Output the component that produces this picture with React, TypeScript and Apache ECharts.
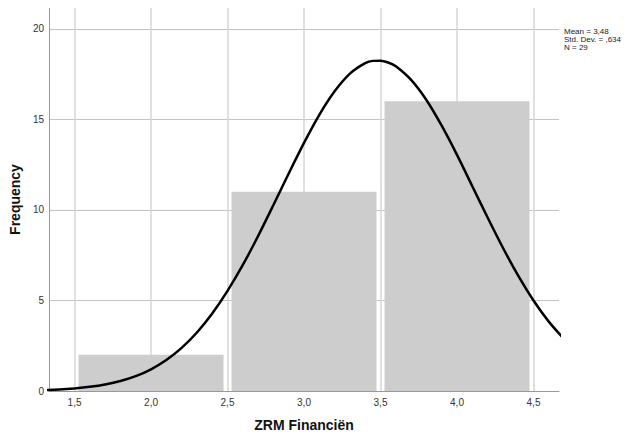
import React, { useEffect, useRef } from "react";
import * as echarts from "echarts";

// Histogram bins: [start, end]
const binStarts = [1.5, 2.5, 3.5];
const binEnds = [2.5, 3.5, 4.5];
const binCounts = [2, 11, 16];

// Normal curve (x, frequency)
const curveX = [
  1.3, 1.4, 1.5, 1.6, 1.7, 1.8, 1.9, 2.0, 2.1, 2.2, 2.3, 2.4, 2.5, 2.6, 2.7, 2.8, 2.9,
  3.0, 3.1, 3.2, 3.3, 3.4, 3.45, 3.5, 3.55, 3.6, 3.7, 3.8, 3.9, 4.0, 4.1, 4.2, 4.3, 4.4, 4.5, 4.6, 4.7,
];
const curveY = [
  0.05, 0.08, 0.14, 0.23, 0.36, 0.55, 0.82, 1.2, 1.71, 2.38, 3.23, 4.28, 5.53, 6.96, 8.56,
  10.27, 12.01, 13.7, 15.25, 16.55, 17.53, 18.11, 18.23, 18.24, 18.14, 17.93, 17.18, 16.07, 14.65, 13.04,
  11.31, 9.58, 7.91, 6.37, 5.0, 3.83, 2.87,
];

const statsLines = ["Mean = 3,48", "Std. Dev. = ,634", "N = 29"];
const xTitle = "ZRM Financiën";
const yTitle = "Frequency";

const FONT = '"Liberation Sans", Arial, sans-serif';

export default function App() {
  const ref = useRef<HTMLDivElement>(null);

  useEffect(() => {
    if (!ref.current) return;
    const chart = echarts.init(ref.current, undefined, { renderer: "svg" });

    const barData = binStarts.map((s, i) => [s, binEnds[i], binCounts[i]]);
    const lineData = curveX.map((x, i) => [x, curveY[i]]);

    chart.setOption({
      animation: false,
      backgroundColor: "#ffffff",
      grid: { left: 49, top: 8, right: 78, bottom: 50 },
      xAxis: {
        type: "value",
        min: 1.3333,
        max: 4.6667,
        name: xTitle,
        nameLocation: "middle",
        nameGap: 27,
        nameTextStyle: { fontFamily: FONT, fontSize: 14, fontWeight: "bold", color: "#111" },
        axisLine: { show: true, onZero: false, lineStyle: { color: "#999", width: 1 } },
        axisTick: { show: false },
        axisLabel: {
          fontFamily: FONT,
          fontSize: 10,
          color: "#333",
          margin: 6,
          showMinLabel: false,
          showMaxLabel: false,
          formatter: (v: number) => v.toFixed(1).replace(".", ","),
        },
        splitLine: {
          show: true,
          showMinLine: false,
          showMaxLine: false,
          lineStyle: { color: "#d6d6d6", width: 1.5 },
        },
      },
      yAxis: {
        type: "value",
        min: 0,
        max: 21.15,
        interval: 5,
        name: yTitle,
        nameLocation: "middle",
        nameGap: 27,
        nameTextStyle: { fontFamily: FONT, fontSize: 14, fontWeight: "bold", color: "#111" },
        axisLine: { show: true, lineStyle: { color: "#999", width: 1 } },
        axisTick: { show: false },
        axisLabel: {
          fontFamily: FONT,
          fontSize: 10,
          color: "#333",
          margin: 5,
          showMaxLabel: false,
        },
        splitLine: {
          show: true,
          showMinLine: false,
          showMaxLine: false,
          lineStyle: { color: "#c4c4c4", width: 1 },
        },
      },
      graphic: [
        {
          type: "text",
          left: 564,
          top: 27,
          style: {
            text: statsLines.join("\n"),
            fontFamily: FONT,
            fontSize: 8,
            lineHeight: 8,
            fill: "#222",
          },
        },
      ],
      series: [
        {
          type: "custom",
          data: barData,
          encode: { x: [0, 1], y: 2 },
          z: 2,
          renderItem: (params: any, api: any) => {
            const p0 = api.coord([api.value(0), api.value(2)]);
            const p1 = api.coord([api.value(1), 0]);
            return {
              type: "rect",
              shape: {
                x: p0[0] + 4,
                y: p0[1],
                width: p1[0] - p0[0] - 8,
                height: p1[1] - p0[1],
              },
              style: { fill: "#cdcdcd" },
            };
          },
        },
        {
          type: "line",
          data: lineData,
          smooth: 0.3,
          symbol: "none",
          clip: true,
          z: 3,
          lineStyle: { color: "#000", width: 2.5 },
        },
      ],
    });

    return () => chart.dispose();
  }, []);

  return <div ref={ref} style={{ width: 637, height: 441, margin: -8 }} />;
}
